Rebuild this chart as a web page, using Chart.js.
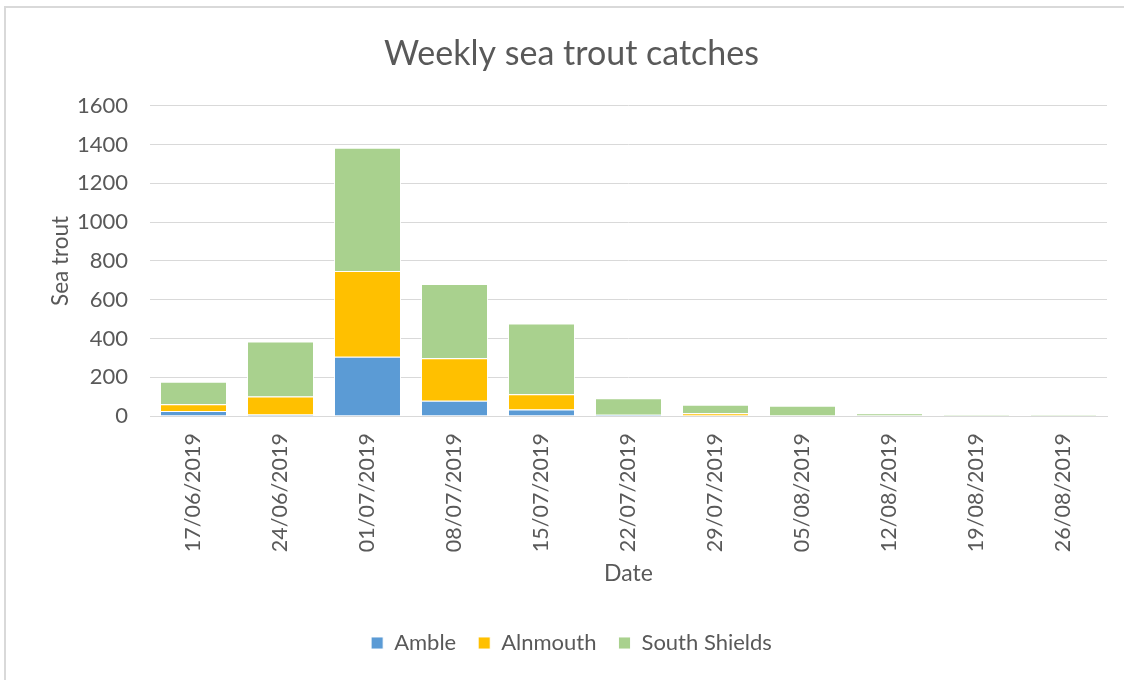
<!DOCTYPE html>
<html>
<head>
<meta charset="utf-8">
<title>Weekly sea trout catches</title>
<script src="https://cdn.jsdelivr.net/npm/chart.js@4.4.0/dist/chart.umd.min.js"></script>
<style>
  html, body { margin: 0; padding: 0; background: #fff; overflow: hidden; }
  #frame {
    position: absolute; left: 4px; top: 6px; width: 1200px; height: 700px;
    border-left: 2px solid #d9d9d9; border-top: 2px solid #d9d9d9;
  }
  #c { position: absolute; left: 0; top: 0; }
</style>
</head>
<body>
<div id="frame"></div>
<canvas id="c" width="1124" height="680"></canvas>
<script>
// Week commencing dates
const weeks = ['17/06/2019', '24/06/2019', '01/07/2019', '08/07/2019', '15/07/2019',
               '22/07/2019', '29/07/2019', '05/08/2019', '12/08/2019', '19/08/2019', '26/08/2019'];

// Sea trout caught per week at each station
const amble        = [26,   8, 305,  79,  33,  7,  0,  0,  0, 0, 0];
const alnmouth     = [34,  92, 443, 219,  79,  0, 14,  0,  0, 0, 0];
const southShields = [117, 284, 636, 383, 365, 84, 44, 53, 14, 7, 7];

// Value axis
const yMin = 0;
const yMax = 1600;
const yStep = 200;

const textColor = '#595959';
const gridColor = '#d9d9d9';
const fontFamily = 'Lato, "Open Sans", sans-serif';

// Left inset of the whole layout; the value axis takes the rest up to the plot
const leftInset = 36;

Chart.defaults.font.family = fontFamily;
Chart.defaults.color = textColor;

new Chart(document.getElementById('c'), {
  type: 'bar',
  data: {
    labels: weeks,
    datasets: [
      { label: 'Amble',         data: amble,        backgroundColor: '#5b9bd5' },
      { label: 'Alnmouth',      data: alnmouth,     backgroundColor: '#ffc000' },
      { label: 'South Shields', data: southShields, backgroundColor: '#a9d18e' }
    ].map(d => Object.assign(d, {
      borderColor: 'rgba(255,255,255,0.9)',
      borderWidth: 1,
      categoryPercentage: 1,
      barPercentage: 0.77
    }))
  },
  options: {
    responsive: false,
    devicePixelRatio: 1,
    animation: false,
    layout: { padding: { left: leftInset, right: 17, top: 0, bottom: 19 } },
    plugins: {
      title: {
        display: true,
        text: 'Weekly sea trout catches',
        color: textColor,
        font: { size: 34, weight: 'normal' },
        padding: { top: 34, bottom: 31 }
      },
      legend: {
        position: 'bottom',
        maxHeight: 51,
        labels: {
          boxWidth: 12,
          boxHeight: 12,
          padding: 22,
          color: textColor,
          font: { size: 22 }
        }
      },
      tooltip: { enabled: false }
    },
    scales: {
      x: {
        stacked: true,
        grid: { display: false, drawTicks: false },
        border: { display: true, color: gridColor, width: 1 },
        ticks: {
          autoSkip: false,
          minRotation: 90,
          maxRotation: 90,
          padding: 17,
          color: textColor,
          font: { size: 21.5 }
        },
        title: {
          display: true,
          text: 'Date',
          color: textColor,
          font: { size: 23 },
          padding: { top: 0, bottom: 23 }
        },
        afterFit: s => { s.height = 194; }
      },
      y: {
        stacked: true,
        min: yMin,
        max: yMax,
        grid: { color: gridColor, lineWidth: 1, drawTicks: false },
        border: { display: false },
        ticks: {
          stepSize: yStep,
          padding: 22,
          color: textColor,
          font: { size: 22 },
          callback: v => String(v)
        },
        title: {
          display: true,
          text: 'Sea trout',
          color: textColor,
          font: { size: 22.5 },
          padding: { top: 11, bottom: 0 }
        },
        afterFit: s => { s.width = 150 - leftInset; }
      }
    }
  }
});
</script>
</body>
</html>
